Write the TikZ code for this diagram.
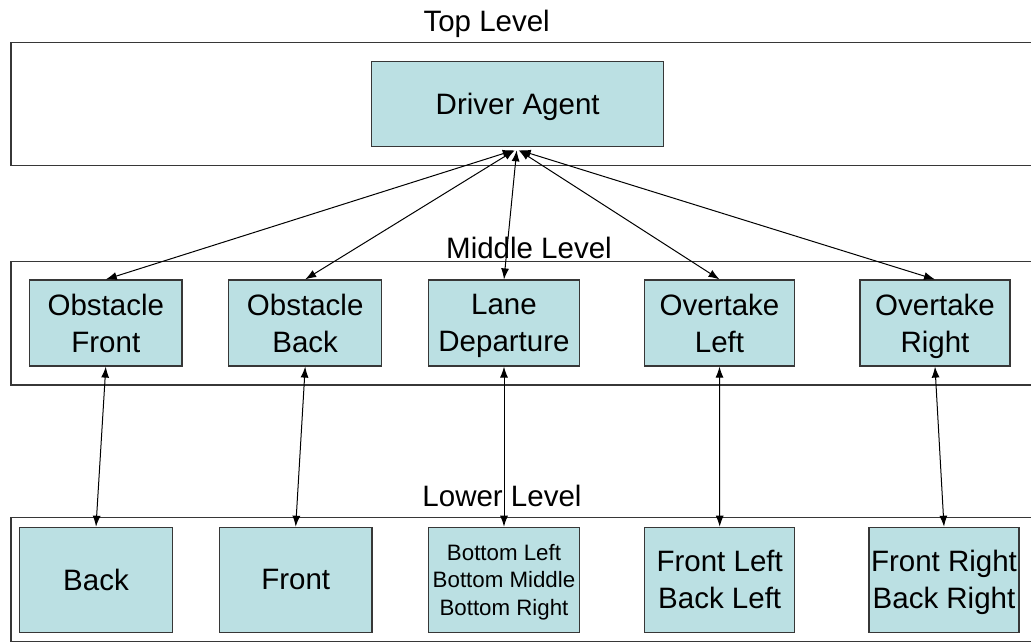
\documentclass[tikz,border=0pt]{standalone}
\usepackage{fontspec}
\setmainfont{Liberation Sans}
\usetikzlibrary{arrows.meta}
\definecolor{boxfill}{RGB}{187,224,227}
\definecolor{boxline}{RGB}{55,55,55}
\begin{document}
\begin{tikzpicture}[x=1pt,y=-1pt,
  agentbox/.style={draw=boxline,line width=1.2pt,fill=boxfill,inner sep=0pt,align=center,
    text depth=0pt,font=\fontsize{29.5}{37}\selectfont},
  smallbox/.style={agentbox,font=\fontsize{22.3}{27.8}\selectfont},
  levelbox/.style={draw=boxline,line width=1.2pt},
  levellabel/.style={anchor=base,inner sep=0pt,font=\fontsize{29.5}{37}\selectfont},
  link/.style={{Latex[length=11pt,width=8pt]}-{Latex[length=11pt,width=8pt]},line width=1pt,black}]
\clip (0,0) rectangle (1031,643);
% level containers
\draw[levelbox] (11,42.5) rectangle (1045,165.5);
\draw[levelbox] (11,261.5) rectangle (1045,385);
\draw[levelbox] (11,517.5) rectangle (1045,641.5);
% level labels
\node[levellabel] (ltop) at (486.7,31) {Top Level};
\node[levellabel] (lmid) at (529,258.5) {Middle Level};
\node[levellabel] (llow) at (502,506) {Lower Level};
% top
\node[agentbox,minimum width=292pt,minimum height=85pt] (da) at (517.7,104.2) {Driver Agent};
% middle
\begin{scope}[every node/.append style={minimum height=86pt}]
\node[agentbox,minimum width=152.5pt] (of) at (105.8,323) {Obstacle\\Front};
\node[agentbox,minimum width=153pt] (ob) at (305.2,323) {Obstacle\\Back};
\node[agentbox,minimum width=151.4pt] (ld) at (504,323) {Lane\\Departure};
\node[agentbox,minimum width=150.4pt] (ol) at (719.5,323) {Overtake\\Left};
\node[agentbox,minimum width=150pt] (or) at (935,323) {Overtake\\Right};
\end{scope}
% lower
\begin{scope}[every node/.append style={minimum height=105pt}]
\node[agentbox,minimum width=152.6pt] (bk) at (96,579.8) {Back};
\node[agentbox,minimum width=152.7pt] (fr) at (295.7,579.8) {Front};
\node[smallbox,minimum width=151.4pt] (bt) at (504,579.8) {Bottom Left\\Bottom Middle\\Bottom Right};
\node[agentbox,minimum width=150pt] (fl) at (719.7,579.8) {Front Left\\Back Left};
\node[agentbox,minimum width=150pt] (fb) at (944,579.8) {Front Right\\Back Right};
\end{scope}
% connectors top-middle
\draw[link] ([xshift=-4pt,yshift=-3pt]da.south) -- (of.north);
\draw[link] ([xshift=-3pt,yshift=-3pt]da.south) -- (ob.north);
\draw[link] ([xshift=-1pt,yshift=-3pt]da.south) -- (ld.north);
\draw[link] ([xshift=1pt,yshift=-3pt]da.south) -- (ol.north);
\draw[link] ([xshift=2pt,yshift=-3pt]da.south) -- (or.north);
% connectors middle-lower
\draw[link] (of.south) -- (bk.north);
\draw[link] (ob.south) -- (fr.north);
\draw[link] (ld.south) -- (bt.north);
\draw[link] (ol.south) -- (fl.north);
\draw[link] (or.south) -- (fb.north);
\end{tikzpicture}
\end{document}
